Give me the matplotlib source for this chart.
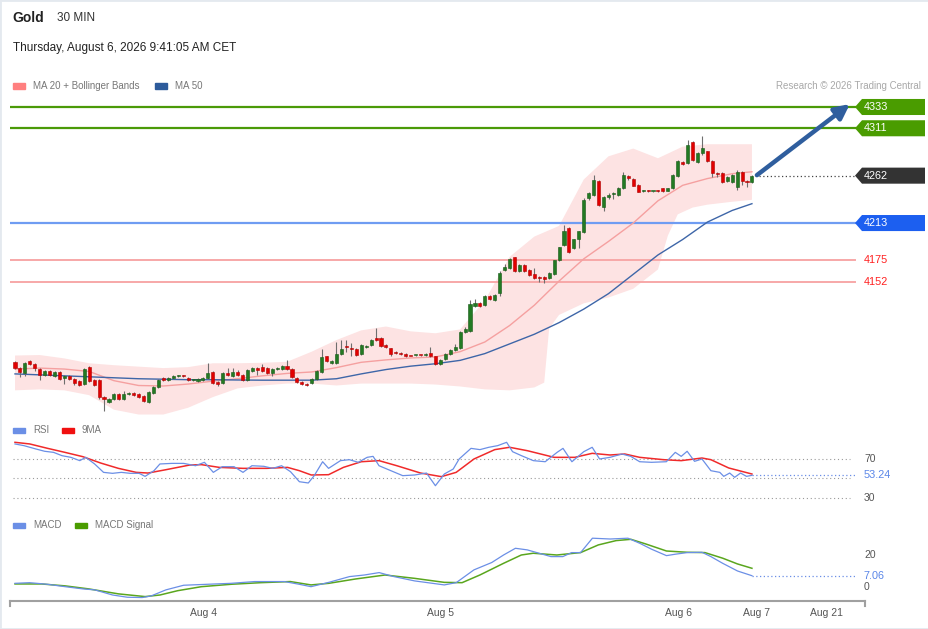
import numpy as np
import matplotlib
matplotlib.use('Agg')
import matplotlib.pyplot as plt
from matplotlib.patches import Polygon, Rectangle
from matplotlib.transforms import blended_transform_factory

plt.rcParams['font.family'] = ['Liberation Sans', 'DejaVu Sans']

# ---- candles (30 min bars) ----
opens = [4069, 4063, 4058, 4070, 4067, 4062, 4056, 4060, 4055, 4059,
         4053, 4055, 4052, 4050, 4047, 4064, 4051, 4051, 4033, 4028,
         4031, 4036, 4031, 4036, 4037, 4036, 4034, 4028, 4037, 4043,
         4053, 4051, 4053, 4055, 4055.3, 4053, 4051, 4050, 4050.5, 4053,
         4059, 4049, 4048, 4058, 4055, 4059, 4056, 4051, 4060, 4063,
         4064, 4063, 4058, 4062, 4062, 4065, 4062, 4053, 4049, 4047,
         4048, 4052, 4059, 4075, 4068, 4068.5, 4078, 4085.5, 4084, 4083,
         4078, 4084.5, 4087, 4094, 4094, 4087, 4083.5, 4080, 4079, 4078,
         4075.5, 4076.4, 4076.5, 4076.5, 4079, 4075, 4067, 4072, 4077.5, 4082,
         4084, 4100, 4101, 4127, 4130, 4128, 4138, 4133, 4141, 4164,
         4166, 4177.5, 4163, 4169.5, 4164, 4160, 4157, 4157, 4156, 4160,
         4175, 4190, 4207.5, 4187, 4196, 4204, 4238.5, 4242, 4256, 4230,
         4240, 4243, 4242, 4249, 4262, 4258.5, 4252.3, 4246, 4246.5, 4246,
         4246.2, 4249, 4246.5, 4249, 4262, 4276, 4275, 4297, 4276, 4285,
         4287, 4277, 4265, 4265, 4256, 4255, 4250.5, 4265.5, 4256, 4255]
highs = [4070, 4064, 4069, 4071, 4068, 4063, 4061, 4061, 4060, 4060,
         4056, 4056, 4053, 4051, 4063, 4065, 4052, 4052, 4034, 4032,
         4037, 4037, 4039, 4038, 4038, 4037, 4035, 4039, 4044, 4052,
         4054, 4054, 4056, 4056, 4056, 4054, 4052, 4053, 4054, 4068,
         4060, 4050, 4059, 4063, 4063, 4061, 4057, 4062, 4064, 4064,
         4067, 4064, 4063, 4064, 4066, 4071, 4063, 4054, 4050, 4048,
         4053, 4061, 4083, 4076, 4071, 4090, 4092, 4092, 4089, 4084,
         4088, 4087, 4093, 4104, 4095, 4088, 4084, 4081, 4080, 4079,
         4076, 4077, 4077, 4079, 4084.5, 4076, 4072, 4079, 4083, 4088,
         4101, 4105, 4133, 4134, 4131, 4139, 4139, 4140, 4163, 4171,
         4177, 4178, 4171, 4171, 4165, 4166, 4158, 4158, 4162, 4175,
         4188, 4211, 4209, 4197, 4205, 4239, 4245, 4263, 4257, 4241,
         4244.5, 4245, 4250.5, 4265.4, 4263, 4259.5, 4253, 4247, 4247, 4246.6,
         4247, 4249.5, 4249.5, 4263.5, 4278, 4277, 4299, 4298, 4286, 4302.5,
         4288, 4278, 4266, 4266, 4262, 4264, 4268, 4266.5, 4257, 4263]
lows = [4062, 4054, 4055, 4066, 4060, 4051, 4055, 4055, 4054, 4051,
        4047, 4051, 4046, 4044, 4046, 4049, 4045, 4031, 4019, 4027,
        4030, 4030, 4030, 4035, 4034, 4032, 4028, 4027, 4036, 4042,
        4050, 4050, 4052, 4054, 4054, 4050, 4050, 4049, 4050, 4052,
        4047, 4044, 4047, 4055, 4054, 4055, 4050, 4050, 4059, 4056,
        4059, 4057, 4055, 4061, 4061, 4061, 4053, 4048, 4046, 4045,
        4047, 4051, 4058, 4069, 4067, 4067, 4077, 4080, 4075, 4076,
        4077, 4084, 4086, 4091, 4085, 4084, 4075.5, 4078, 4077, 4074,
        4075, 4076, 4076, 4076, 4074, 4066, 4066, 4071, 4077, 4081,
        4083, 4099, 4100, 4126, 4126, 4127, 4133, 4132, 4138, 4163,
        4165, 4162, 4162, 4162, 4158, 4155, 4152, 4150.5, 4155, 4159,
        4174, 4189, 4182, 4186, 4187, 4203, 4237, 4241, 4231, 4225,
        4237.5, 4238, 4241, 4248, 4258, 4251, 4245, 4245.5, 4245.5, 4245.5,
        4245.5, 4245.5, 4246, 4248, 4261, 4273, 4274, 4277, 4275, 4283.5,
        4276, 4261, 4261, 4254, 4255, 4254, 4247, 4252, 4250.5, 4254]
closes = [4063, 4059, 4068, 4067, 4063, 4056, 4060, 4056, 4059, 4052,
          4055, 4052, 4048, 4046, 4062, 4050, 4046, 4033, 4031, 4031,
          4036, 4031, 4036, 4037, 4035, 4033, 4029, 4038, 4043, 4051,
          4051, 4053, 4055, 4055.3, 4055, 4051, 4051.3, 4052, 4053, 4058,
          4048, 4047, 4058, 4056, 4059, 4056, 4051, 4061, 4063, 4061,
          4060, 4058, 4062, 4063, 4065, 4062, 4054, 4049, 4047, 4046,
          4052, 4060, 4074, 4070, 4070, 4078, 4083, 4085, 4083, 4077,
          4087, 4086, 4092, 4092, 4086, 4085, 4078, 4079, 4078, 4075,
          4075.4, 4076.5, 4076.4, 4078, 4075, 4067, 4071, 4078, 4082, 4085,
          4100, 4103, 4129, 4130, 4127, 4138, 4134, 4139, 4161, 4168,
          4176, 4163, 4170, 4163, 4159, 4156, 4156, 4155, 4161, 4175,
          4188, 4205, 4183, 4196, 4205, 4237, 4244, 4257, 4232, 4240,
          4242, 4244.5, 4249.6, 4262.7, 4259.2, 4251.6, 4245.4, 4246.5, 4246, 4246.2,
          4246, 4246, 4249, 4262.7, 4277.5, 4274, 4294, 4278, 4285, 4291,
          4277, 4265, 4264, 4255, 4261, 4263, 4266, 4256, 4255, 4262]

# ---- moving averages and Bollinger bands (read at every 5th bar) ----
band_idx = [0, 5, 10, 15, 20, 25, 30, 35, 40, 45, 50, 55, 60, 65, 70, 75,
            80, 85, 90, 95, 100, 105, 110, 115, 120, 125, 130, 135, 140, 145, 149]
ma20 = [4062, 4063, 4062, 4059.5, 4050, 4045, 4044.5, 4046.5, 4049.5, 4052, 4055,
        4057.5, 4059, 4063.5, 4069, 4071.5, 4073.5, 4074.5, 4080, 4090, 4107,
        4128, 4153, 4176, 4194, 4213, 4236, 4252, 4259, 4264, 4266]
ma50 = [4057, 4056, 4055, 4054, 4053, 4052, 4051.5, 4051, 4051, 4050.7, 4050.5,
        4050.5, 4050.5, 4052, 4057, 4061.5, 4065, 4067.5, 4071, 4078, 4088,
        4098, 4110, 4124, 4140, 4160, 4180, 4196, 4214, 4226, 4233]
bb_upper = [4076, 4076.5, 4073, 4068, 4066, 4064.5, 4063, 4064, 4068, 4068, 4068.5,
            4069.5, 4080, 4092, 4102, 4106, 4101, 4099, 4103, 4133, 4178,
            4199, 4210, 4258, 4282, 4290, 4280, 4292, 4294.5, 4294.5, 4294.5]
lower_idx = [0, 5, 10, 15, 20, 25, 30, 35, 40, 45, 50, 55, 60, 65, 70, 75, 80, 85,
             90, 95, 100, 105, 107, 108, 110, 115, 120, 125, 130, 132, 134, 137,
             140, 145, 149]
bb_lower = [4040, 4041, 4040, 4035, 4020, 4015, 4015, 4022, 4033, 4042, 4045, 4047,
            4047, 4045, 4047, 4047, 4047, 4046, 4044, 4041, 4040, 4043, 4048, 4104,
            4118, 4130, 4136, 4145, 4165, 4200, 4222, 4229, 4232, 4235, 4237]

# ---- levels ----
resistances = [4333, 4311]
last_price = 4262
pivot = 4213
supports = [4175, 4152]

# ---- RSI panel ----
rsi_pos = [0, 1.8, 4.2, 6, 7.8, 9.5, 11.3, 13.1, 14.3, 16.1, 17.9, 19.7, 21.5, 23.3,
           25.1, 26.3, 28.1, 29.3, 31.7, 34.1, 36.5, 38.3, 40.1, 41.9, 44.3, 46.1,
           47.9, 50.3, 52.1, 53.9, 55.7, 57.5, 59.3, 60.5, 62.2, 63.4, 65.8, 67.6,
           69.4, 71.2, 72.4, 73.6, 76, 78.4, 80.8, 83.2, 85, 86.8, 88.6, 89.8, 92.2,
           94, 95.8, 97.6, 99.4, 100.6, 102.4, 104.8, 107.2, 109.6, 110.8, 112.6,
           115, 116.7, 118.2, 120.3, 122.7, 124.5, 126.3, 128.7, 131.7, 133.5,
           134.7, 135.9, 137.4, 138.9, 140.7, 142.5, 143.3, 144.5, 145.5, 146.7,
           147.9, 149]
rsi = [85.4, 83.7, 80.3, 77.9, 76.8, 73.4, 71.7, 68.3, 71.7, 64.9, 56.3, 55.3, 56.3,
       55.3, 55.3, 52.2, 58, 64.9, 65.5, 65.5, 63.1, 66.6, 56.3, 62.1, 62.1, 56.3,
       63.1, 62.5, 60.4, 63.1, 57, 46.7, 45.4, 52.9, 67.2, 60.4, 68.3, 69.3, 66.6,
       71.7, 72.7, 63.1, 58, 52.9, 53.6, 55.6, 42.6, 54.6, 59.7, 70, 80.9, 79.6, 82,
       83.7, 87.1, 77.5, 73.4, 68.3, 67.2, 76.8, 80.9, 67.2, 77.5, 82, 70, 71.7,
       75.1, 72.7, 67.2, 66.6, 67.2, 76.8, 72.7, 77.9, 67.6, 70, 58, 56.3, 52.2,
       55.6, 51.2, 55.6, 52.2, 53.24]
ma9_pos = [0, 3, 6.6, 10.1, 13.7, 17.3, 20.9, 24.5, 26.9, 30.5, 35.3, 37.7, 41.3,
           46.1, 50.9, 55.1, 57.5, 59.9, 63.4, 66.4, 70, 73.6, 77.2, 82, 86.2, 89.2,
           92.8, 97, 100, 103.6, 109, 113.2, 116.7, 120.3, 123.3, 126.3, 131.1,
           134.7, 138.9, 140.7, 144.3, 149]
rsi_ma9 = [87.1, 85.4, 80.9, 76.8, 72.4, 65.9, 60.4, 56.3, 55.6, 59, 63.8, 64.2, 61.4,
           60.4, 60.4, 61.4, 58, 53.6, 53.9, 61.4, 67.2, 68.3, 63.1, 55.6, 51.9, 56.3,
           70, 79.6, 82, 78.5, 71.7, 71.7, 75.8, 74.1, 75.1, 71.7, 69.3, 68.3, 71,
           69.3, 60.8, 54.6]

# ---- MACD panel ----
macd_pos = [0, 2.96, 6.55, 10.14, 13.74, 16.13, 19.73, 22.72, 25.71, 27.51, 30.51,
            34.1, 38.89, 43.68, 48.47, 54.46, 57.46, 59.85, 63.44, 67.63, 70.63,
            73.63, 76.62, 80.81, 84.41, 86.8, 89.2, 92.79, 96.39, 98.78, 101.18,
            103.57, 105.97, 108.36, 110.76, 112.55, 114.35, 116.75, 120.34, 123.93,
            126.33, 128.72, 131.72, 133.52, 135.91, 138.9, 140.7, 143.09, 146.09, 149]
macd = [2.3, 2.7, 1.7, 0.2, -1.2, -1.8, -5, -6.4, -6.6, -5.6, -1.8, 1.1, 1.7, 2.3,
        3.4, 3.4, 1.7, 0.2, 2.9, 6.5, 7.5, 9, 6.5, 3.8, 2.3, 1.3, 2.7, 10.7, 15.3,
        20, 24.2, 23.2, 21.1, 19, 19, 21.5, 21.5, 30.5, 30, 30.5, 27.3, 23.6, 19.6,
        20.5, 21.5, 21.7, 19, 14.8, 10, 7.06]
signal_pos = [0, 5.35, 10.14, 14.93, 20.92, 26.31, 29.31, 32.9, 37.69, 43.68, 49.67,
              55.66, 59.85, 63.44, 68.83, 74.82, 80.81, 86.8, 90.39, 93.99, 98.78,
              102.37, 104.77, 109.56, 114.35, 117.94, 121.54, 124.53, 127.53,
              131.72, 135.91, 139.5, 143.09, 146.09, 149]
macd_signal = [1.9, 1.9, 0.7, -1.2, -4.3, -6, -5, -2.3, 0.2, 1.7, 2.7, 3.4, 1.3, 2.3,
               5, 7.5, 5.4, 2.9, 2.7, 7.5, 14.8, 20, 21.1, 20, 21.5, 26.3, 29, 29.8,
               26.9, 22.5, 21.7, 21.5, 18, 14.4, 11.7]

date_ticks = [38.2, 86.1, 134.2, 150, 164]
date_labels = ['Aug 4', 'Aug 5', 'Aug 6', 'Aug 7', 'Aug 21']

# ---- layout (pixels of a 929x629 image) ----
W, H = 929, 629
fig = plt.figure(figsize=(W / 100, H / 100), dpi=100)
fig.patch.set_facecolor('white')


def fx(px):
    return px / W


def fy(py):
    return 1 - py / H


X0, X1 = 10, 865
XLIM = (-1.011, 171.86)
LINE_END = (855 - X0) / (X1 - X0)


def panel(top, bottom):
    a = fig.add_axes([fx(X0), fy(bottom), fx(X1) - fx(X0), (bottom - top) / H])
    a.set_xlim(*XLIM)
    a.patch.set_alpha(0)
    return a


ax = panel(95, 415)
ax.set_ylim(4014.5, 4345.4)
ax.axis('off')

x = np.arange(len(closes))
o = np.array(opens)
h = np.array(highs)
l = np.array(lows)
c = np.array(closes)

ax.fill(np.r_[band_idx, lower_idx[::-1]], np.r_[bb_upper, bb_lower[::-1]],
        color='#fde3e3', lw=0, zorder=1)

for r in resistances:
    ax.axhline(r, xmin=0, xmax=LINE_END, color='#4a9a08', lw=1.6, zorder=2)
ax.axhline(pivot, xmin=0, xmax=LINE_END, color='#6f9cf2', lw=1.6, zorder=2)
for s in supports:
    ax.axhline(s, xmin=0, xmax=LINE_END, color='#f7a8a8', lw=1.4, zorder=2)

ax.plot(band_idx, ma20, color='#f5a0a0', lw=1.0, zorder=2.5)
ax.plot(band_idx, ma50, color='#3e66a8', lw=1.0, zorder=2.5)

up = c >= o
body_col = np.where(up, '#237a23', '#e20000')
edge_col = np.where(up, '#165816', '#b00000')
ax.vlines(x, l, h, color='#6e6e6e', lw=0.8, zorder=3)
ax.bar(x, np.maximum(np.abs(c - o), 0.8), 0.62, bottom=np.minimum(o, c),
       color=body_col, edgecolor=edge_col, lw=0.4, zorder=4)

# last price dotted line and forecast arrow
ax.hlines(last_price, 150.5, 169.8, color='#444444', lw=0.9,
          linestyles=(0, (1, 2)), zorder=2)
ax.annotate('', xy=(168.8, 4336), xytext=(150.0, 4262.5), annotation_clip=False,
            arrowprops=dict(arrowstyle='-|>', color='#2f5e9e', lw=3.2,
                            mutation_scale=22, shrinkA=0, shrinkB=0), zorder=6)

# price tags on the right
tr = blended_transform_factory(fig.transFigure, ax.transData)
half = 8.3


def tag(price, color):
    pts = [(fx(855), price), (fx(862), price + half), (fx(925), price + half),
           (fx(925), price - half), (fx(862), price - half)]
    ax.add_patch(Polygon(pts, closed=True, transform=tr, clip_on=False,
                         facecolor=color, edgecolor='none', zorder=7))
    ax.text(fx(864), price, str(price), transform=tr, color='white', fontsize=7.8,
            va='center', ha='left', zorder=8)


for r in resistances:
    tag(r, '#4a9c00')
tag(last_price, '#333333')
tag(pivot, '#1c5ff0')
for s in supports:
    ax.text(fx(864), s, str(s), transform=tr, color='#ff2020', fontsize=7.8,
            va='center', ha='left')

# ---- RSI ----
ax2 = panel(435, 510)
ax2.set_ylim(17.7, 94.6)
ax2.axis('off')
for lv in (70, 50, 30):
    ax2.axhline(lv, xmin=0.003, xmax=0.983, color='#9a9a9a', lw=0.8,
                linestyle=(0, (1, 2.5)))
ax2.plot(rsi_pos, rsi, color='#6b8fe6', lw=0.9, zorder=3)
ax2.plot(ma9_pos, rsi_ma9, color='#f02a2a', lw=1.1, zorder=2)
ax2.hlines(rsi[-1], rsi_pos[-1], 169.8, color='#6b8fe6', lw=0.9,
           linestyles=(0, (1, 2)))
tr2 = blended_transform_factory(fig.transFigure, ax2.transData)
ax2.text(fx(864), 70, '70', transform=tr2, color='#555555', fontsize=7.5, va='center')
ax2.text(fx(864), 30, '30', transform=tr2, color='#555555', fontsize=7.5, va='center')
ax2.text(fx(864), rsi[-1], f'{rsi[-1]:.2f}', transform=tr2, color='#5a86e8',
         fontsize=7.8, va='center')

# ---- MACD ----
ax3 = panel(515, 601)
ax3.set_ylim(-8.75, 45)
for side in ('top', 'right', 'left'):
    ax3.spines[side].set_visible(False)
ax3.spines['bottom'].set_color('#a0a0a0')
ax3.spines['bottom'].set_linewidth(1.5)
ax3.set_yticks([])
ax3.set_xticks(date_ticks, date_labels)
ax3.tick_params(axis='x', length=0, labelsize=7.5, labelcolor='#555555', pad=5)
for xe in (0, 1):
    ax3.plot([xe, xe], [0, -0.06], transform=ax3.transAxes, clip_on=False,
             color='#a0a0a0', lw=1.5)
ax3.plot(macd_pos, macd, color='#6b8fe6', lw=0.9, zorder=3)
ax3.plot(signal_pos, macd_signal, color='#5aa61e', lw=1.1, zorder=2)
ax3.hlines(macd[-1], macd_pos[-1], 169.8, color='#6b8fe6', lw=0.9,
           linestyles=(0, (1, 2)))
tr3 = blended_transform_factory(fig.transFigure, ax3.transData)
ax3.text(fx(864), 20, '20', transform=tr3, color='#555555', fontsize=7.5, va='center')
ax3.text(fx(864), 0, '0', transform=tr3, color='#555555', fontsize=7.5, va='center')
ax3.text(fx(864), macd[-1], f'{macd[-1]:.2f}', transform=tr3, color='#5a86e8',
         fontsize=7.8, va='center')

# ---- header and legends ----
fig.text(fx(12), fy(18), 'Gold', fontsize=10, fontweight='bold', color='#222222',
         va='center')
fig.text(fx(57), fy(18), '30 MIN', fontsize=8.5, color='#333333', va='center')
fig.text(fx(13), fy(48), 'Thursday, August 6, 2026 9:41:05 AM CET', fontsize=8.5,
         color='#222222', va='center')
fig.text(fx(921), fy(86), 'Research \u00a9 2026 Trading Central', fontsize=7,
         color='#a8a8a8', va='center', ha='right')


def legend_item(px, py, color, label):
    fig.patches.append(Rectangle((fx(px), fy(py + 2.5)), 12 / W, 5 / H,
                                 transform=fig.transFigure, color=color))
    fig.text(fx(px + 20), fy(py), label, fontsize=7, color='#777777', va='center')


legend_item(13, 86, '#ff7f7f', 'MA 20 + Bollinger Bands')
legend_item(155, 86, '#2d5b9b', 'MA 50')
legend_item(13, 430, '#6b8fe6', 'RSI')
legend_item(62, 430, '#f01010', '9MA')
legend_item(13, 525, '#6b8fe6', 'MACD')
legend_item(75, 525, '#4a9c00', 'MACD Signal')

fig.patches.append(Rectangle((0, 0), 1, 1, transform=fig.transFigure, fill=False,
                             edgecolor='#e4e9ef', lw=2))

fig.savefig('out.png', dpi=100, facecolor='white')
